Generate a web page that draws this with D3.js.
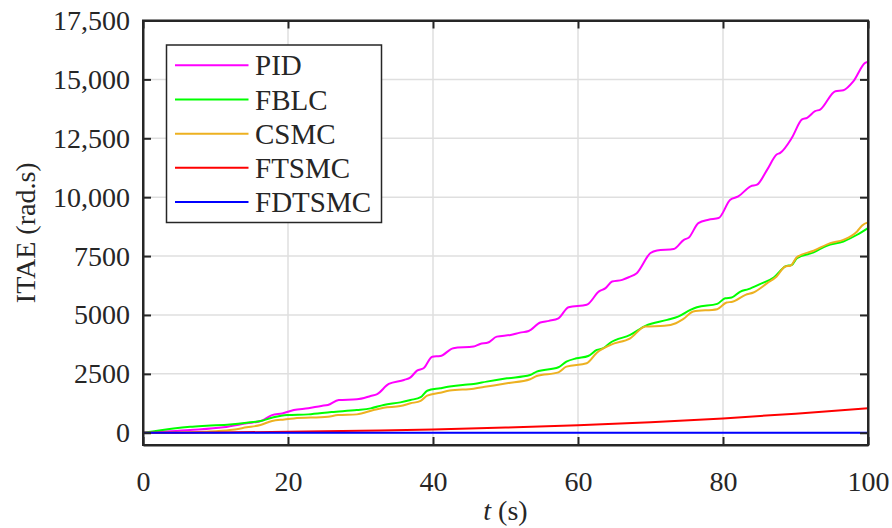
<!DOCTYPE html>
<html>
<head>
<meta charset="utf-8">
<script src="https://cdn.jsdelivr.net/npm/d3@7"></script>
<style>
  html, body { margin: 0; padding: 0; background: #ffffff; }
  svg { display: block; }
  text { font-family: "Liberation Serif", "Times New Roman", serif; fill: #262626; }
</style>
</head>
<body>
<svg id="chart" width="892" height="528"></svg>
<script>
// ---------------- data ----------------
const seriesNames = ["PID", "FBLC", "CSMC", "FTSMC", "FDTSMC"];
const seriesColors = ["#ff00ff", "#00ff00", "#edb120", "#ff0000", "#0000ff"];

const pidT = [0, 6.5, 11.1, 14.3, 16.4, 17.8, 19.2, 20.8, 22.8, 24.6, 25.5, 27, 29.5, 31.4, 32.3, 33.9, 36, 36.9, 37.8, 38.7, 39.9, 41, 42.8, 45.6, 46.5, 47.6, 48.8, 50.7, 52, 53.2, 54.8, 56, 57.3, 58.7, 61.2, 62.9, 63.8, 64.7, 66.1, 67, 68.1, 70, 70.9, 73.2, 74.6, 75.3, 76.6, 78, 79.4, 81, 82.1, 83.8, 84.7, 86.1, 87.4, 87.9, 89.5, 90.9, 91.6, 92.7, 93.4, 95.5, 96.6, 98, 99.6, 100];
const pidV = [0, 115, 230, 400, 510, 750, 820, 965, 1040, 1140, 1180, 1390, 1420, 1560, 1640, 2070, 2240, 2350, 2640, 2740, 3230, 3255, 3590, 3660, 3770, 3830, 4080, 4150, 4250, 4320, 4680, 4750, 4860, 5330, 5430, 6000, 6140, 6420, 6490, 6600, 6775, 7630, 7740, 7800, 8190, 8290, 8900, 9045, 9115, 9890, 10030, 10460, 10530, 11170, 11810, 11880, 12520, 13300, 13370, 13650, 13720, 14500, 14540, 14925, 15700, 15750];

const fblcT = [0, 4.2, 6.5, 8.8, 12, 14.3, 16.2, 18, 19.9, 22.8, 26, 29.5, 31.4, 33.2, 35.5, 36.9, 38.3, 39.2, 41, 42.3, 44.1, 45.6, 47.4, 50.2, 53.4, 54.3, 57.3, 58.4, 59.8, 61.4, 62.6, 63.5, 64.5, 67.2, 69.3, 72.3, 73.8, 75.5, 76.4, 79.2, 80.3, 81.2, 82.4, 83.5, 85.1, 87, 88.6, 89.5, 90.2, 92.5, 94.3, 96.6, 98.5, 100];
const fblcV = [0, 185, 255, 300, 355, 425, 500, 655, 750, 780, 880, 965, 1035, 1180, 1290, 1390, 1510, 1785, 1890, 1960, 2030, 2070, 2170, 2310, 2450, 2595, 2780, 3020, 3160, 3260, 3515, 3590, 3830, 4155, 4535, 4790, 4930, 5215, 5330, 5470, 5710, 5740, 5995, 6095, 6310, 6590, 7060, 7130, 7415, 7655, 7940, 8120, 8405, 8690];

const csmcT = [0, 6.5, 8.8, 12, 14.3, 16.2, 17.8, 19.5, 20.8, 25.5, 26.9, 29.5, 31.8, 33.2, 35.5, 36.9, 38.3, 39.2, 41, 42.3, 45.6, 47.4, 50.2, 53.4, 54.3, 57.3, 58.4, 61.2, 62.6, 64.5, 67.2, 69.3, 71.9, 73.5, 74.5, 75.9, 79.2, 80.5, 81.3, 83.1, 84.2, 86.1, 87.4, 88.6, 89.3, 90.2, 92.5, 94.8, 96.6, 98.5, 99.2, 100];
const csmcV = [0, 20, 45, 115, 230, 330, 500, 565, 610, 680, 750, 780, 965, 1065, 1135, 1250, 1350, 1575, 1700, 1790, 1870, 1960, 2100, 2270, 2410, 2565, 2805, 2950, 3400, 3730, 4010, 4510, 4540, 4650, 4820, 5145, 5245, 5530, 5560, 5855, 5955, 6350, 6635, 7060, 7090, 7455, 7725, 8050, 8190, 8545, 8800, 8930];

const ftsmcT = [0, 10, 20, 30, 40, 50, 60, 70, 80, 90, 100];
const ftsmcV = [0, 12, 40, 85, 140, 220, 320, 450, 610, 810, 1040];

const fdtsmcT = [0, 20, 40, 60, 80, 100];
const fdtsmcV = [0, 1, 2, 3, 4, 5];

const xTicks = [0, 20, 40, 60, 80, 100];
const yTicks = [0, 2500, 5000, 7500, 10000, 12500, 15000, 17500];
const yTickLabels = ["0", "2500", "5000", "7500", "10,000", "12,500", "15,000", "17,500"];

// ---------------- layout ----------------
const svg = d3.select("#chart");
const L = 143, R = 868, T = 20.5, B = 445;
const axisColor = "#262626";

const x = d3.scaleLinear().domain([0, 100]).range([L, R]);
const y = d3.scaleLinear().domain([-520, 17500]).range([B, T]);

// grid
const grid = svg.append("g");
grid.selectAll("line.gx").data(xTicks).join("line")
  .attr("x1", d => x(d)).attr("x2", d => x(d))
  .attr("y1", T).attr("y2", B)
  .attr("stroke", "#dfdfdf").attr("stroke-width", 1.5);
grid.selectAll("line.gy").data(yTicks).join("line")
  .attr("x1", L).attr("x2", R)
  .attr("y1", d => y(d)).attr("y2", d => y(d))
  .attr("stroke", "#dfdfdf").attr("stroke-width", 1.5);

// series
const allSeries = [
  {t: pidT, v: pidV},
  {t: fblcT, v: fblcV},
  {t: csmcT, v: csmcV},
  {t: ftsmcT, v: ftsmcV},
  {t: fdtsmcT, v: fdtsmcV}
];
const line = d3.line().x(d => x(d[0])).y(d => y(d[1])).curve(d3.curveMonotoneX);
const plot = svg.append("g");
allSeries.forEach((s, i) => {
  const pts = s.t.map((tt, k) => [tt, s.v[k]]);
  plot.append("path").datum(pts)
    .attr("d", line)
    .attr("fill", "none")
    .attr("stroke", seriesColors[i])
    .attr("stroke-width", 2)
    .attr("stroke-linejoin", "round");
});

// axes (box with inward ticks)
const tickLen = 8;
const axBottom = svg.append("g").attr("transform", `translate(0,${B})`)
  .call(d3.axisBottom(x).tickValues(xTicks).tickSizeInner(-tickLen).tickSizeOuter(0).tickPadding(26));
const axTop = svg.append("g").attr("transform", `translate(0,${T})`)
  .call(d3.axisTop(x).tickValues(xTicks).tickSizeInner(-tickLen).tickSizeOuter(0).tickFormat(""));
const axLeft = svg.append("g").attr("transform", `translate(${L},0)`)
  .call(d3.axisLeft(y).tickValues(yTicks).tickSizeInner(-tickLen).tickSizeOuter(0).tickPadding(13)
    .tickFormat((d, i) => yTickLabels[i]));
const axRight = svg.append("g").attr("transform", `translate(${R},0)`)
  .call(d3.axisRight(y).tickValues(yTicks).tickSizeInner(-tickLen).tickSizeOuter(0).tickFormat(""));

[axBottom, axTop, axLeft, axRight].forEach(g => {
  g.select(".domain").attr("stroke", axisColor).attr("stroke-width", 2);
  g.selectAll(".tick line").attr("stroke", axisColor).attr("stroke-width", 2);
  g.selectAll(".tick text")
    .attr("fill", axisColor)
    .style("font-family", '"Liberation Serif", "Times New Roman", serif')
    .style("font-size", "28px");
});
// explicit frame to ensure full box corners
svg.append("rect").attr("x", L).attr("y", T).attr("width", R - L).attr("height", B - T)
  .attr("fill", "none").attr("stroke", axisColor).attr("stroke-width", 2);

// axis labels
const xl = svg.append("text").attr("x", (L + R) / 2).attr("y", 520)
  .attr("text-anchor", "middle").style("font-size", "28px");
xl.append("tspan").attr("font-style", "italic").text("t");
xl.append("tspan").text(" (s)");

svg.append("text")
  .attr("transform", `translate(35,${(T + B) / 2}) rotate(-90)`)
  .attr("text-anchor", "middle").style("font-size", "28px")
  .text("ITAE (rad.s)");

// legend
const lg = svg.append("g");
lg.append("rect").attr("x", 166.5).attr("y", 45).attr("width", 215).attr("height", 177.5)
  .attr("fill", "#ffffff").attr("stroke", axisColor).attr("stroke-width", 1.5);
const rowY = d3.scaleLinear().domain([0, 4]).range([65.3, 202]);
seriesNames.forEach((name, i) => {
  lg.append("line").attr("x1", 175).attr("x2", 248.5)
    .attr("y1", rowY(i)).attr("y2", rowY(i))
    .attr("stroke", seriesColors[i]).attr("stroke-width", 2);
  lg.append("text").attr("x", 255).attr("y", rowY(i)).attr("dy", "0.35em")
    .style("font-size", "29px").text(name);
});
</script>
</body>
</html>
